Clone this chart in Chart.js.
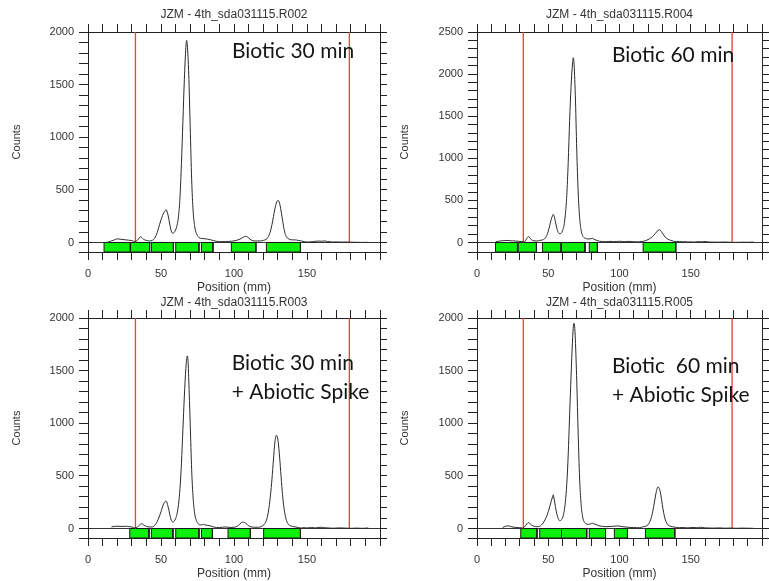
<!DOCTYPE html>
<html>
<head>
<meta charset="utf-8">
<script src="https://cdn.jsdelivr.net/npm/chart.js@4.4.0/dist/chart.umd.min.js"></script>
<style>
    html, body { margin: 0; padding: 0; background: #fff; }
    body { width: 769px; height: 581px; position: relative; overflow: hidden; }
    canvas { position: absolute; }
</style>
</head>
<body>
<canvas id="r002" width="392" height="296" style="left:0;top:0"></canvas>
<canvas id="r004" width="384" height="296" style="left:385px;top:0"></canvas>
<canvas id="r003" width="392" height="291" style="left:0;top:290px"></canvas>
<canvas id="r005" width="384" height="291" style="left:385px;top:290px"></canvas>
<script>
// --- data (position in mm, counts) ---
const markers = [32.5, 179];

const pos002 = [12,14,16,18,20,22,24,26,28,30,
    32,34,35,36,37,38,40,42,44,45,
    46,47,48,49,50,51,52,53,53.5,54,
    55,56,57,58,59,60,61,62,63,64,
    65,66,67,67.5,68,69,70,71,72,73,
    74,75,76,78,80,82,84,86,88,90,
    92,94,96,98,100,102,104,106,107,108,
    109,110,111,112,114,116,118,120,122,123,
    124,125,126,127,128,129,130,131,132,133,
    134,135,136,137,138,140,142,144,146,148,
    150,152,154,156,158,160,162,164,166,168,
    170,172,174,176,180,184,188,192];
const cnt002 = [0,5,15,25,35,32,28,25,22,18,
    10,22,42,55,45,30,20,15,20,30,
    50,80,120,170,215,255,285,305,312,300,
    250,175,110,88,95,120,165,250,430,750,
    1150,1550,1850,1920,1880,1600,1100,600,300,160,
    95,65,48,38,36,32,26,18,12,8,
    10,8,10,12,15,22,32,48,55,60,
    55,45,32,22,15,15,15,20,30,45,
    70,110,170,245,320,375,400,385,320,235,
    150,85,52,38,30,25,25,20,15,8,
    5,6,8,12,14,12,15,10,7,5,
    6,5,4,5,3,2,1,2];
const regions002 = [[11,29],[29.2,42.2],[43.4,58.5],[60.1,76],[77.7,85.6],[98.2,115],[122.2,145.5]];

const pos004 = [13,15,17,19,21,23,25,27,29,31,
    33,34,35,36,37,38,40,42,44,45,
    46,47,48,49,50,51,52,53,53.5,54,
    55,56,57,58,59,60,61,62,63,64,
    65,66,67,67.5,68,69,70,71,72,73,
    74,75,76,78,80,81,82,84,86,88,
    90,92,94,96,98,100,102,104,106,108,
    110,112,114,116,118,120,122,124,125,126,
    127,128,129,130,131,132,134,136,138,140,
    142,144,146,148,150,152,155,158,160,163,
    166,170,174,178,182,186,190,194];
const cnt004 = [8,15,20,22,25,22,20,18,15,12,
    8,20,50,70,60,35,20,18,25,28,
    30,40,55,85,135,200,270,320,335,322,
    250,170,120,105,110,140,200,330,560,950,
    1450,1850,2120,2195,2150,1750,1100,600,300,150,
    85,60,50,42,45,50,40,25,15,12,
    10,12,14,10,12,15,12,10,14,12,
    10,8,10,12,20,35,55,85,105,125,
    145,150,140,115,90,65,40,25,15,10,
    12,8,10,6,8,5,10,8,12,6,
    5,4,6,3,2,4,3,5];
const regions004 = [[13,28.4],[28.9,41.7],[46,59],[59,75.8],[78.8,84.5],[116.6,139.5]];

const pos003 = [16,18,20,22,24,26,28,30,32,34,
    35,36,37,38,40,42,44,45,46,47,
    48,49,50,51,52,53,53.5,54,55,56,
    57,58,59,60,61,62,63,64,65,66,
    67,67.5,68,68.5,69,70,71,72,73,74,
    75,76,77,78,79,80,82,84,86,88,
    90,92,94,96,98,100,102,103,104,105,
    106,107,108,109,110,112,114,116,118,120,
    121,122,123,124,125,126,127,128,129,130,
    131,132,133,134,135,136,137,138,140,142,
    144,146,148,150,153,156,159,162,165,168,
    172,176,180,184,188,192];
const cnt003 = [15,20,22,20,20,22,18,15,6,15,
    30,42,45,35,20,15,15,20,35,55,
    85,120,160,205,240,258,262,250,200,135,
    80,62,70,95,140,230,380,620,940,1260,
    1520,1600,1640,1600,1420,1000,560,290,150,85,
    55,40,35,35,40,35,30,25,15,10,
    10,12,15,12,10,12,20,30,45,55,
    62,58,50,40,25,15,12,12,15,30,
    45,70,120,200,320,470,650,820,885,850,
    720,540,360,220,130,75,45,30,20,15,
    10,5,8,5,10,6,12,8,5,3,
    6,4,2,4,2,5];
const regions003 = [[28.6,41.8],[43.4,58.2],[60.1,76],[77.7,85.2],[95.9,111.2],[120.3,145.5]];

const pos005 = [18,20,22,24,26,28,30,32,34,35,
    36,37,38,40,42,44,45,46,47,48,
    49,50,51,52,53,53.5,54,55,56,57,
    58,59,60,61,62,63,64,65,66,67,
    67.5,68,68.5,69,70,71,72,73,74,75,
    76,77,78,80,81,82,84,86,88,90,
    92,94,96,98,99,100,102,104,106,108,
    110,112,114,116,118,120,121,122,123,124,
    125,126,127,128,129,130,131,132,133,134,
    136,138,140,142,145,148,151,154,157,160,
    163,166,170,174,178,182,186,190,194];
const cnt005 = [8,22,25,18,12,10,8,5,25,45,
    55,50,35,22,18,20,30,45,65,90,
    120,160,205,255,300,320,290,210,140,95,
    75,80,100,150,250,420,700,1080,1450,1780,
    1900,1950,1920,1800,1400,900,480,240,120,70,
    50,42,40,45,50,45,35,25,20,18,
    18,20,22,24,25,22,18,15,12,10,
    10,8,8,15,20,35,55,90,140,210,
    290,360,395,380,320,230,150,90,55,35,
    20,15,10,8,10,6,10,8,12,6,
    5,4,6,3,5,2,4,3,2];
const regions005 = [[30.7,42.1],[44,59.3],[59.3,77],[78.8,90.2],[96.4,105.6],[118.2,138.8]];

const FONT = "'Liberation Sans', Arial, sans-serif";
const INK = '#333';

// the big handwritten labels put on top of each scan
const notesPlugin = {
    id: 'notes',
    afterDatasetsDraw(chart, args, opts) {
        if (!opts.lines) return;
        const { ctx, scales } = chart;
        const x0 = scales.x.getPixelForValue(opts.at[0]);
        const y0 = scales.y.getPixelForValue(opts.at[1]);
        ctx.save();
        ctx.font = "21px Lato, 'Open Sans', sans-serif";
        ctx.fillStyle = '#151515';
        ctx.textBaseline = 'alphabetic';
        opts.lines.forEach((t, i) => ctx.fillText(t, x0, y0 + i * 29));
        ctx.restore();
    }
};

// counts axis: a tick at the bottom of the region strip, then every 100 from 0
function countTicks(scale) {
    const ticks = [{ value: scale.min }];
    for (let v = 0; v <= scale.max; v += 100) ticks.push({ value: v });
    scale.ticks = ticks;
}

function mmTicks(scale) {
    const ticks = [];
    for (let v = 0; v <= 200; v += 10) ticks.push({ value: v });
    scale.ticks = ticks;
}

function drawPanel(p) {
    const yMin = -p.yMax * 0.045;
    const datasets = [];

    datasets.push({
        data: p.pos.map((x, i) => ({ x: x, y: p.cnt[i] })),
        showLine: true, borderColor: '#2a2a2a', borderWidth: 1, pointRadius: 0,
        cubicInterpolationMode: 'monotone'
    });

    markers.forEach(m => datasets.push({
        data: [{ x: m, y: 0 }, { x: m, y: p.yMax }],
        showLine: true, borderColor: '#f03c3c', borderWidth: 1.3, pointRadius: 0
    }));

    p.regions.forEach(r => datasets.push({
        data: [{ x: r[0], y: 0 }, { x: r[1], y: 0 }, { x: r[1], y: yMin }, { x: r[0], y: yMin }, { x: r[0], y: 0 }],
        showLine: true, fill: 'shape', backgroundColor: '#0af00a', borderColor: '#1a1a1a',
        borderWidth: 1, pointRadius: 0, clip: false
    }));

    const tickFont = { family: FONT, size: 11 };
    const titleFont = { family: FONT, size: 12 };

    new Chart(document.getElementById(p.id), {
        type: 'scatter',
        data: { datasets: datasets },
        plugins: [notesPlugin],
        options: {
            responsive: false,
            animation: false,
            layout: { padding: 0 },
            plugins: {
                legend: { display: false },
                tooltip: { enabled: false },
                notes: { lines: p.lines, at: p.at }
            },
            scales: {
                x: {
                    type: 'linear', position: 'bottom', min: 0, max: 200,
                    afterBuildTicks: mmTicks,
                    ticks: { autoSkip: false, maxRotation: 0, padding: 7, color: INK, font: tickFont,
                        callback: v => (v % 50 === 0 && v < 200) ? v : '' },
                    grid: { drawOnChartArea: false, tickLength: 8, tickColor: '#222' },
                    border: { color: '#222' },
                    title: { display: true, text: 'Position (mm)', color: INK, font: titleFont, padding: { top: 0, bottom: p.posPad } },
                    afterFit: s => { s.height = p.bottom; }
                },
                x2: {
                    type: 'linear', position: 'top', min: 0, max: 200,
                    afterBuildTicks: mmTicks,
                    ticks: { autoSkip: false, display: false },
                    grid: { drawOnChartArea: false, tickLength: 8, tickColor: '#222' },
                    border: { color: '#222' },
                    title: { display: true, text: p.title, color: INK, font: titleFont, padding: { top: p.titlePad, bottom: 0 } },
                    afterFit: s => { s.height = p.top; }
                },
                y: {
                    type: 'linear', position: 'left', min: yMin, max: p.yMax,
                    afterBuildTicks: countTicks,
                    ticks: { autoSkip: false, padding: 5, color: INK, font: tickFont,
                        callback: v => (v >= 0 && v % 500 === 0) ? v : '' },
                    grid: { color: c => (c.tick && c.tick.value === 0) ? '#333' : 'rgba(0,0,0,0)', tickColor: '#222', tickLength: 9 },
                    border: { color: '#222' },
                    title: { display: true, text: 'Counts', color: INK, font: tickFont, padding: { top: p.countsPad, bottom: 0 } },
                    afterFit: s => { s.width = p.left; }
                },
                y2: {
                    type: 'linear', position: 'right', min: yMin, max: p.yMax,
                    afterBuildTicks: countTicks,
                    ticks: { autoSkip: false, display: false },
                    grid: { drawOnChartArea: false, tickLength: 7, tickColor: '#222' },
                    border: { color: '#222' },
                    afterFit: s => { s.width = p.right; }
                }
            }
        }
    });
}

drawPanel({ id: 'r002', title: 'JZM - 4th_sda031115.R002', pos: pos002, cnt: cnt002, regions: regions002, yMax: 2000,
    lines: ['Biotic 30 min'], at: [98.6, 1750],
    left: 88, right: 12, top: 32, bottom: 44, titlePad: 7.8, posPad: 0.8, countsPad: 10 });
drawPanel({ id: 'r004', title: 'JZM - 4th_sda031115.R004', pos: pos004, cnt: cnt004, regions: regions004, yMax: 2500,
    lines: ['Biotic 60 min'], at: [94.7, 2142],
    left: 92, right: 1, top: 32, bottom: 44, titlePad: 7.8, posPad: 0.8, countsPad: 13.4 });
drawPanel({ id: 'r003', title: 'JZM - 4th_sda031115.R003', pos: pos003, cnt: cnt003, regions: regions003, yMax: 2000,
    lines: ['Biotic 30 min', '+ Abiotic Spike'], at: [98.4, 1507],
    left: 88, right: 12, top: 28, bottom: 43, titlePad: 5.5, posPad: 0.5, countsPad: 10 });
drawPanel({ id: 'r005', title: 'JZM - 4th_sda031115.R005', pos: pos005, cnt: cnt005, regions: regions005, yMax: 2000,
    lines: ['Biotic  60 min', '+ Abiotic Spike'], at: [94.7, 1476],
    left: 92, right: 1, top: 28, bottom: 43, titlePad: 5.5, posPad: 0.5, countsPad: 13.4 });
</script>
</body>
</html>
